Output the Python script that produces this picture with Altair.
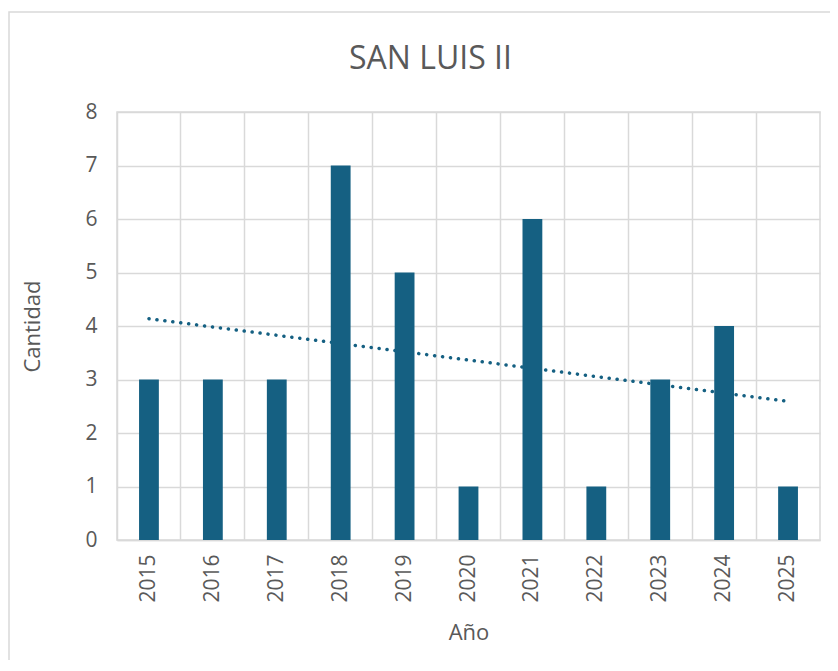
import altair as alt
import pandas as pd

years = [2015, 2016, 2017, 2018, 2019, 2020, 2021, 2022, 2023, 2024, 2025]
counts = [3, 3, 3, 7, 5, 1, 6, 1, 3, 4, 1]

df = pd.DataFrame({"Año": years, "Cantidad": counts})

FONT = "Open Sans"
TEXT = "#595959"
GRID = "#d9d9d9"
BAR = "#156082"

x_enc = alt.X(
    "Año:O",
    title="Año",
    scale=alt.Scale(paddingInner=0, paddingOuter=0),
    axis=alt.Axis(
        labelAngle=-90, labelFontSize=21, labelColor=TEXT, labelFont=FONT,
        labelPadding=14, ticks=False, domain=True, domainColor=GRID, domainWidth=1.5,
        grid=True, gridColor=GRID, gridWidth=1.5, bandPosition=0,
        titleFontSize=22, titleColor=TEXT, titleFont=FONT, titleFontWeight="normal",
        titlePadding=20, labelBaseline="middle", labelAlign="right",
    ),
)
y_enc = alt.Y(
    "Cantidad:Q",
    title="Cantidad",
    scale=alt.Scale(domain=[0, 8], nice=False),
    axis=alt.Axis(
        values=[0, 1, 2, 3, 4, 5, 6, 7, 8], labelFontSize=21, labelColor=TEXT,
        labelFont=FONT, labelPadding=20, ticks=False, domain=False,
        grid=True, gridColor=GRID, gridWidth=1.5,
        titleFontSize=22, titleColor=TEXT, titleFont=FONT, titleFontWeight="normal",
        titlePadding=40,
    ),
)

base = alt.Chart(df)

trend = base.transform_regression("Año", "Cantidad", method="linear").mark_line(
    color=BAR, strokeWidth=3.5, strokeDash=[0.1, 7.9], strokeCap="round"
).encode(x=x_enc, y=y_enc)

bars = base.mark_bar(color=BAR, width=alt.RelativeBandSize(0.31)).encode(
    x=x_enc, y=y_enc
)

frame = alt.Chart(alt.Data(values=[{"f": 1}])).mark_rect(
    fill=None, stroke=GRID, strokeWidth=1.5
).encode(
    x=alt.value(-108), x2=alt.value(760), y=alt.value(-100), y2=alt.value(600)
)

chart = alt.layer(frame, trend, bars).properties(
    width=703,
    height=428,
    padding={"left": 109, "top": 104, "right": 10, "bottom": 120},
    autosize=alt.AutoSizeParams(type="none"),
    title=alt.TitleParams(
        "SAN LUIS II", fontSize=32, color=TEXT, font=FONT, fontWeight="normal",
        anchor="middle", dx=-38, offset=30, dy=95,
    ),
).configure_view(stroke=GRID, strokeWidth=1.5)

chart.save("out.html", embed_options={"renderer": "svg", "actions": False})
